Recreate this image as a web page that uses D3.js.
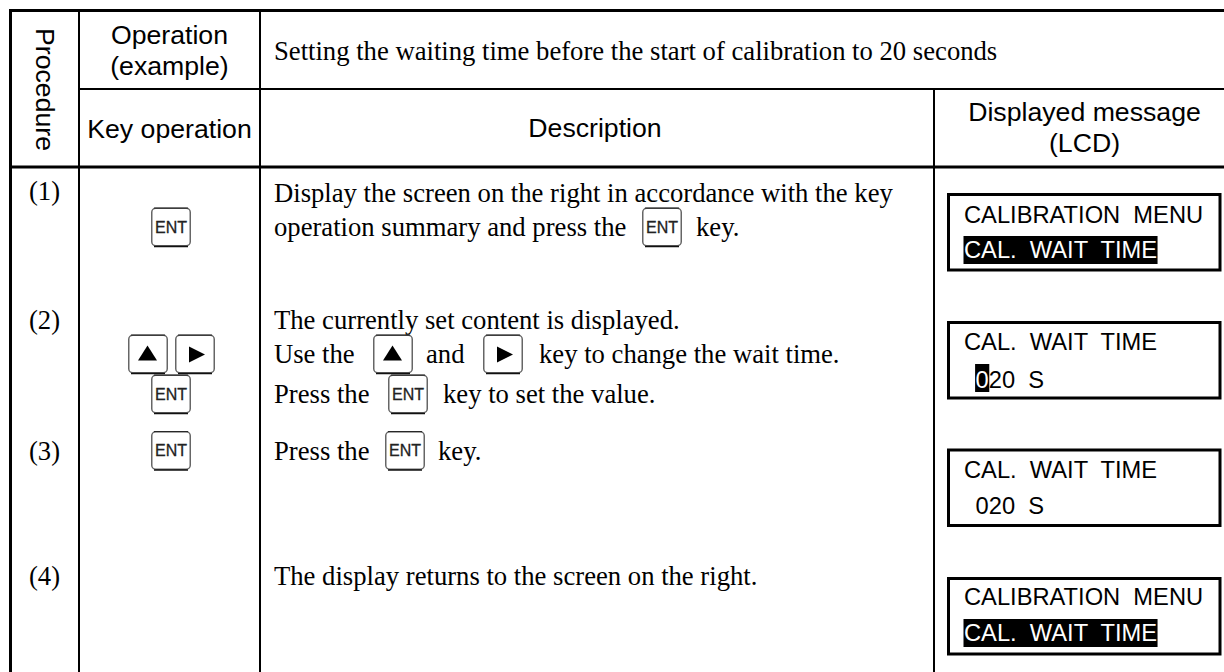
<!DOCTYPE html>
<html>
<head>
<meta charset="utf-8">
<script src="https://cdn.jsdelivr.net/npm/d3@7"></script>
<style>
  html, body { margin: 0; padding: 0; background: #fff; }
  svg { display: block; }
  text { white-space: pre; fill: #000; }
  .sans { font-family: "Liberation Sans", Arial, sans-serif; font-size: 26.67px; }
  .serif { font-family: "Liberation Serif", "Times New Roman", serif; font-size: 26.67px; }
  .lcd { font-family: "Liberation Sans", Arial, sans-serif; font-size: 23.7px; }
  .keycap { font-family: "Liberation Sans", Arial, sans-serif; font-size: 16px; fill: #222; stroke: #222; stroke-width: .3px; }
</style>
</head>
<body>
<div id="chart"></div>
<script>
const width = 1224, height = 672;

// table content
const stepLabels = ["(1)", "(2)", "(3)", "(4)"];
const headerTopLeft = ["Operation", "(example)"];
const operationTitle = "Setting the waiting time before the start of calibration to 20 seconds";
const lcdHeader = ["Displayed message", "(LCD)"];

// description lines, a piece starting with "key:" is a key button
const descriptionLines = [
  ["Display the screen on the right in accordance with the key"],
  ["operation summary and press the", "key:ENT", "key."],
  ["The currently set content is displayed."],
  ["Use the", "key:up", "and", "key:right", "key to change the wait time."],
  ["Press the", "key:ENT", "key to set the value."],
  ["Press the", "key:ENT", "key."],
  ["The display returns to the screen on the right."]
];

// keys in the key operation column
const operationKeys = ["ENT", "up", "right", "ENT2", "ENT3"];

// the four LCD screens, two lines each, * marks a highlighted run
const lcdScreens = [
  ["CALIBRATION  MENU", "*CAL.  WAIT  TIME*"],
  ["CAL.  WAIT  TIME", " *0*20  S"],
  ["CAL.  WAIT  TIME", " 020  S"],
  ["CALIBRATION  MENU", "*CAL.  WAIT  TIME*"]
];

// layout
const colX = d3.scaleOrdinal(["left", "key", "desc", "lcd"], [10.5, 79, 260, 934]);
const headY = d3.scaleOrdinal(["top", "mid", "bottom"], [10.5, 89, 167]);
const stepY = d3.scaleOrdinal(stepLabels, [200, 328.5, 460, 585]);
const lineY = d3.scaleOrdinal(d3.range(descriptionLines.length), [202, 236, 329, 363, 403, 460, 585]);
const pieceX = [
  [274],
  [274, 642, 696],
  [274],
  [274, 373, 426, 483, 539],
  [274, 388, 443],
  [274, 385, 438],
  [274]
];
const opKeyX = d3.scaleOrdinal(operationKeys, [151, 128, 175, 151, 151]);
const opKeyY = d3.scaleOrdinal(operationKeys, [207.5, 334.5, 334.5, 374.5, 431]);
const lcdTop = [193, 321, 448.5, 577];
const lcdBaseline = [[223, 258], [350, 388], [478, 514], [605, 641]];
const lcdHighlightTop = [236, 364, 0, 619];

const svg = d3.select("#chart").append("svg")
  .attr("width", width)
  .attr("height", height)
  .attr("viewBox", `0 0 ${width} ${height}`);

// grid
const gridLines = [
  [colX("left"), headY("top") - 1.5, colX("left"), height, 3],
  [colX("key"), headY("top"), colX("key"), height, 2],
  [colX("desc"), headY("top"), colX("desc"), height, 2],
  [colX("lcd"), headY("mid"), colX("lcd"), height, 2],
  [colX("left"), headY("top"), width, headY("top"), 3],
  [colX("key"), headY("mid"), width, headY("mid"), 2],
  [colX("left"), headY("bottom"), width, headY("bottom"), 3]
];
svg.append("g").attr("id", "grid").selectAll("line")
  .data(gridLines)
  .join("line")
  .attr("x1", d => d[0]).attr("y1", d => d[1])
  .attr("x2", d => d[2]).attr("y2", d => d[3])
  .attr("stroke", "#000")
  .attr("stroke-width", d => d[4]);

// header
const head = svg.append("g").attr("id", "header");
head.append("text").attr("class", "sans")
  .attr("transform", "translate(35.5,89.5) rotate(90)")
  .attr("text-anchor", "middle")
  .text("Procedure");
head.selectAll("text.op")
  .data(headerTopLeft)
  .join("text")
  .attr("class", "sans op")
  .attr("x", 169.5)
  .attr("y", (d, i) => 44 + i * 30.5)
  .attr("text-anchor", "middle")
  .text(d => d);
head.append("text").attr("class", "sans")
  .attr("x", 169.5).attr("y", 137.5).attr("text-anchor", "middle")
  .text("Key operation");
head.append("text").attr("class", "serif")
  .attr("x", 274).attr("y", 60)
  .text(operationTitle);
head.append("text").attr("class", "sans")
  .attr("x", 595).attr("y", 137).attr("text-anchor", "middle")
  .text("Description");
head.selectAll("text.disp")
  .data(lcdHeader)
  .join("text")
  .attr("class", "sans disp")
  .attr("x", 1084.5)
  .attr("y", (d, i) => 121 + i * 31)
  .attr("text-anchor", "middle")
  .text(d => d);

// step numbers
svg.append("g").attr("id", "steps").selectAll("text")
  .data(stepLabels)
  .join("text")
  .attr("class", "serif")
  .attr("x", 44.5)
  .attr("y", d => stepY(d))
  .attr("text-anchor", "middle")
  .text(d => d);

function drawKey(parent, x, y, kind) {
  let g = parent.append("g").attr("transform", `translate(${x},${y})`);
  g.append("rect")
    .attr("x", .75).attr("y", .75)
    .attr("width", 38.5).attr("height", 37.5)
    .attr("rx", 4)
    .attr("fill", "#fff")
    .attr("stroke", "#666")
    .attr("stroke-width", 1.5);
  g.append("path")
    .attr("d", "M3,39 H37")
    .attr("stroke", "#111")
    .attr("stroke-width", 1.5);
  g.append("path")
    .attr("d", "M3,.6 H37")
    .attr("stroke", "#222")
    .attr("stroke-width", 1);
  if (kind.startsWith("ENT")) {
    g.append("text").attr("class", "keycap")
      .attr("x", 20).attr("y", 25)
      .attr("text-anchor", "middle")
      .text("ENT");
  } else if (kind == "up") {
    g.append("path").attr("d", "M19.5,11 L29,26 H10 Z").attr("fill", "#000");
  } else {
    g.append("path").attr("d", "M14,12 L30,20 L14,28 Z").attr("fill", "#000");
  }
}

// key operation column
const opKeys = svg.append("g").attr("id", "op-keys");
operationKeys.forEach(k => drawKey(opKeys, opKeyX(k), opKeyY(k), k));

// description column
const desc = svg.append("g").attr("id", "description");
descriptionLines.forEach((pieces, i) => {
  pieces.forEach((p, j) => {
    if (p.startsWith("key:")) {
      // the keys of line 5 sit a little higher on the baseline than the others
      let keyY = i == 5 ? opKeyY("ENT3") : lineY(i) - 28.5;
      drawKey(desc, pieceX[i][j], keyY, p.slice(4));
    } else {
      desc.append("text").attr("class", "serif")
        .attr("x", pieceX[i][j])
        .attr("y", lineY(i))
        .text(p);
    }
  });
});

// LCD screens
const lcd = svg.append("g").attr("id", "lcd");
lcdScreens.forEach((screen, i) => {
  let g = lcd.append("g").attr("class", "screen");
  g.append("rect")
    .attr("x", 948.5).attr("y", lcdTop[i] + 1.5)
    .attr("width", 271.5).attr("height", 75.5)
    .attr("fill", "#fff").attr("stroke", "#000").attr("stroke-width", 3);
  screen.forEach((line, l) => {
    let t = g.append("text").attr("class", "lcd")
      .attr("x", line.startsWith(" ") ? 969 : 964)
      .attr("y", lcdBaseline[i][l]);
    line.split("*").forEach((part, k) => {
      if (!part.length) return;
      let span = t.append("tspan").text(part);
      if (k % 2 == 0) return;
      // inverted run, the black box goes behind the text
      let start = span.node().getStartPositionOfChar(0).x;
      g.insert("rect", "text")
        .attr("x", start - .5)
        .attr("y", lcdHighlightTop[i])
        .attr("width", span.node().getComputedTextLength() + 1)
        .attr("height", 28)
        .attr("fill", "#000");
      span.style("fill", "#fff");
    });
  });
});
</script>
</body>
</html>
